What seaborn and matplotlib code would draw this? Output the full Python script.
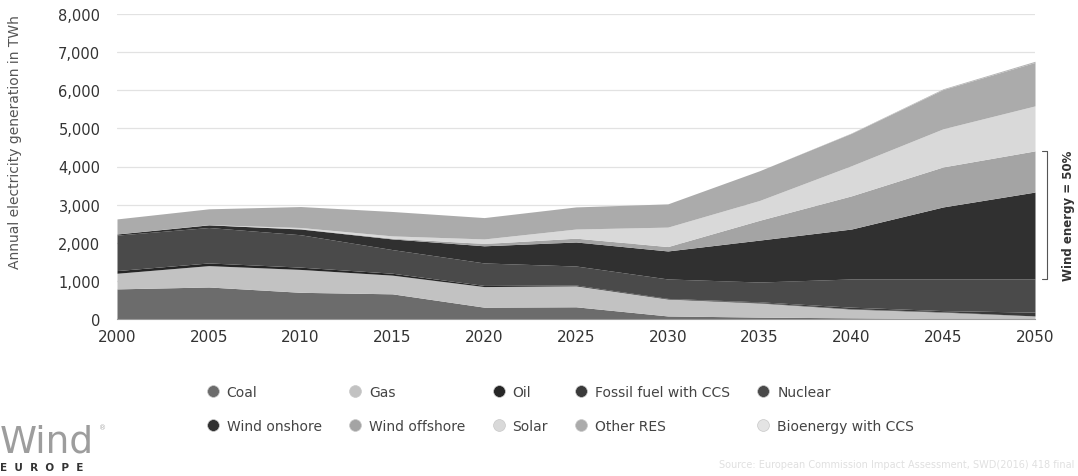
import matplotlib
matplotlib.use("Agg")
import matplotlib.pyplot as plt
import matplotlib.transforms as mtransforms
from matplotlib.lines import Line2D
import seaborn as sns

# ---------------- data (TWh) ----------------
years = [2000, 2005, 2010, 2015, 2020, 2025, 2030, 2035, 2040, 2045, 2050]

coal          = [790, 840, 700, 660, 310, 320,  80,  50,  30,  10,   0]
gas           = [410, 560, 600, 490, 540, 550, 445, 370, 230, 170,  80]
oil           = [ 70,  70,  60,  50,  30,  20,  15,  10,  10,  10,   0]
fossil_ccs    = [  0,   0,   0,   0,   0,   0,   0,  20,  40,  30, 100]
nuclear       = [930, 930, 850, 620, 590, 500, 510, 520, 740, 830, 870]
wind_onshore  = [ 30,  70, 150, 280, 450, 630, 735, 1100, 1310, 1890, 2280]
wind_offshore = [  0,   0,  10,  20,  60, 100, 115, 520, 870, 1050, 1080]
solar         = [  0,   5,  30,  60, 120, 240, 510, 520, 790, 1000, 1180]
other_res     = [395, 415, 550, 640, 560, 580, 610, 780, 850, 1030, 1140]
bio_ccs       = [  0,   0,   0,   0,   0,   0,   0,   0,  10,  20,  30]

categories = ["Coal", "Gas", "Oil", "Fossil fuel with CCS", "Nuclear",
              "Wind onshore", "Wind offshore", "Solar", "Other RES",
              "Bioenergy with CCS"]
series = [coal, gas, oil, fossil_ccs, nuclear, wind_onshore, wind_offshore,
          solar, other_res, bio_ccs]
colors = ["#6c6c6c", "#c2c2c2", "#262626", "#3a3a3a", "#4a4a4a",
          "#303030", "#a4a4a4", "#d9d9d9", "#ababab", "#b4b4b4"]
legend_colors = ["#6c6c6c", "#c2c2c2", "#262626", "#3a3a3a", "#4a4a4a",
                 "#303030", "#a4a4a4", "#d9d9d9", "#ababab", "#e4e4e4"]

x_ticks = list(range(2000, 2051, 5))
y_ticks = list(range(0, 8001, 1000))
annotation_text = "Wind energy = 50%"
y_label = "Annual electricity generation in TWh"

# ---------------- style ----------------
sns.set_theme(style="white")
plt.rcParams['font.family'] = ['DejaVu Sans']

fig = plt.figure(figsize=(10.78, 4.77), dpi=100)
ax = fig.add_axes([117 / 1078, 1 - 320 / 477, (1035 - 117) / 1078, (320 - 15) / 477])

ax.stackplot(years, *series, colors=colors, linewidth=0, labels=categories)

ax.set_xlim(2000, 2050)
ax.set_ylim(0, 8000)
ax.set_xticks(x_ticks)
ax.set_yticks(y_ticks)
ax.set_yticklabels([f"{v:,}" for v in y_ticks])
ax.set_axisbelow(True)
ax.yaxis.grid(True, color="#e2e2e2", linewidth=0.9)
ax.xaxis.grid(False)
sns.despine(ax=ax, left=True, top=True, right=True)
ax.spines["bottom"].set_color("#9a9a9a")
ax.spines["bottom"].set_linewidth(0.8)
ax.tick_params(axis="x", direction="out", length=4, width=0.8, color="#9a9a9a",
               labelsize=11, labelcolor="#333333", pad=3)
ax.tick_params(axis="y", length=0, labelsize=10.5, labelcolor="#333333", pad=12)

ax.set_ylabel(y_label, fontsize=10, color="#555555")
ax.yaxis.set_label_coords(-0.104, 0.585)

# ---------------- wind bracket ----------------
i_last = len(years) - 1
low = sum(s[i_last] for s in series[:5])
high = low + wind_onshore[i_last] + wind_offshore[i_last]
trans = mtransforms.blended_transform_factory(ax.transAxes, ax.transData)
bx, bx0 = 1.0135, 1.0075
ax.plot([bx0, bx, bx, bx0], [high, high, low, low], transform=trans,
        color="#555555", linewidth=0.8, clip_on=False)
ax.text(1.037, (low + high) / 2, annotation_text, transform=trans, rotation=90,
        ha="center", va="center", fontsize=8.5, fontweight="bold", color="#333333")

# ---------------- legend ----------------
handles = [Line2D([0], [0], marker="o", linestyle="none", markersize=8.5,
                  markerfacecolor=c, markeredgecolor="#c8c8c8", markeredgewidth=0.5)
           for c in legend_colors]
order = [0, 5, 1, 6, 2, 7, 3, 8, 4, 9]
fig.legend([handles[i] for i in order], [categories[i] for i in order],
           ncol=5, loc="upper left", bbox_to_anchor=(0.191, 0.191),
           frameon=False, fontsize=10, labelcolor="#444444",
           handletextpad=0.5, columnspacing=1.9, labelspacing=1.45,
           handlelength=1.0, borderaxespad=0, borderpad=0)

# ---------------- branding / source ----------------
fig.text(0.0, 0.052, "Wind", fontsize=27, color="#9d9d9d", ha="left", va="baseline")
fig.text(0.092, 0.098, "®", fontsize=5, color="#aaaaaa", ha="left", va="baseline")
fig.text(0.0, 0.012, "E  U  R  O  P  E", fontsize=7.5, fontweight="bold",
         color="#333333", ha="left", va="baseline")
fig.text(0.997, 0.018, "Source: European Commission Impact Assessment, SWD(2016) 418 final",
         fontsize=7, color="#e0e0e0", ha="right", va="baseline")

fig.savefig("out.png", dpi=100)
